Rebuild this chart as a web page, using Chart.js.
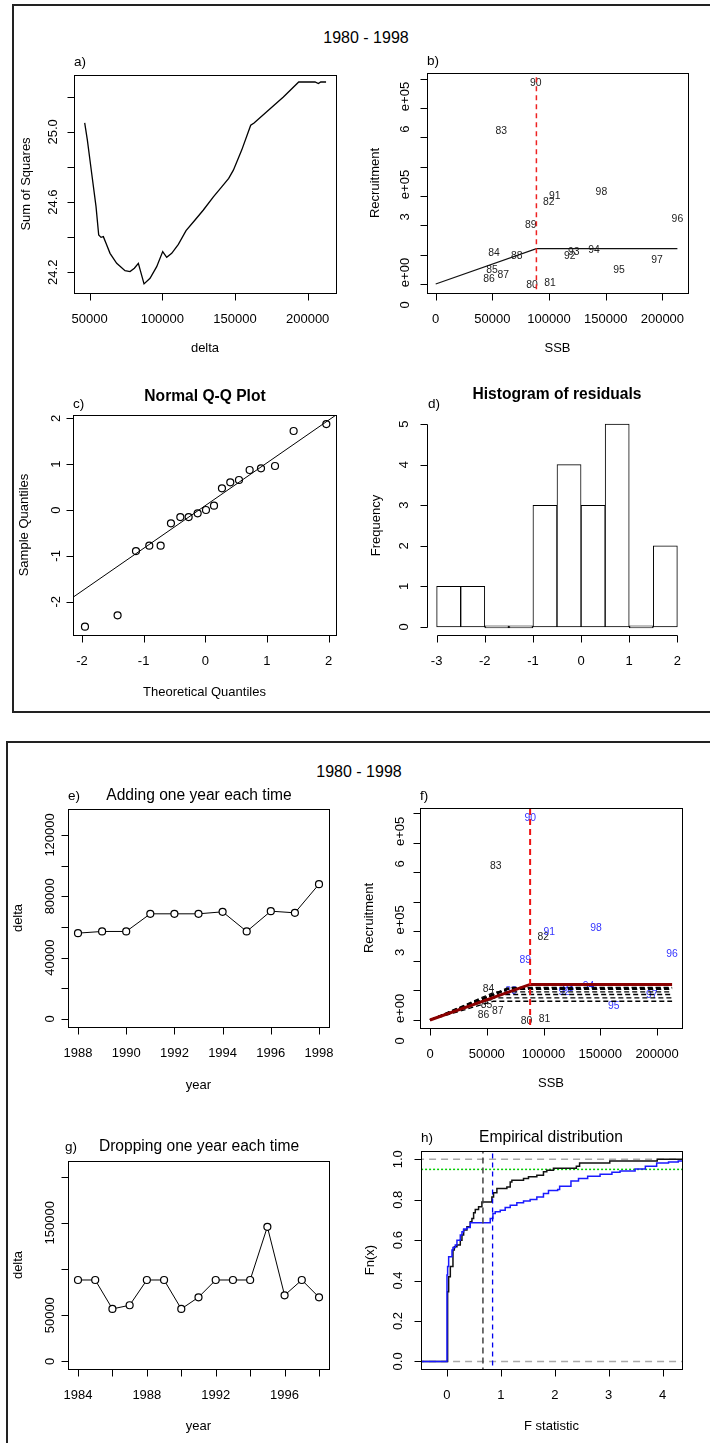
<!DOCTYPE html>
<html>
<head>
<meta charset="utf-8">
<title>Stock-recruitment diagnostics 1980 - 1998</title>
<script src="https://cdn.jsdelivr.net/npm/chart.js@4.4.0/dist/chart.umd.min.js"></script>
<style>
  html, body { margin: 0; padding: 0; background: #fff; }
  #page { position: relative; width: 710px; height: 1443px; overflow: hidden; background: #fff;
          font-family: "Liberation Sans", Arial, Helvetica, sans-serif; }
  .frame { position: absolute; border: 2px solid #222; }
  .head { position: absolute; width: 200px; text-align: center; font-size: 16px; line-height: 18px; color: #000; }
  canvas { position: absolute; left: 0; top: 0; }
</style>
</head>
<body>
<div id="page">
  <div class="frame" style="left:12px; top:4px; width:720px; height:705px"></div>
  <div class="frame" style="left:6px; top:741px; width:720px; height:720px"></div>
  <div class="head" style="left:266px; top:29px">1980 - 1998</div>
  <div class="head" style="left:259px; top:763px">1980 - 1998</div>
  <canvas id="pa" width="710" height="1443"></canvas>
  <canvas id="pb" width="710" height="1443"></canvas>
  <canvas id="pc" width="710" height="1443"></canvas>
  <canvas id="pd" width="710" height="1443"></canvas>
  <canvas id="pe" width="710" height="1443"></canvas>
  <canvas id="pf" width="710" height="1443"></canvas>
  <canvas id="pg" width="710" height="1443"></canvas>
  <canvas id="ph" width="710" height="1443"></canvas>
</div>
<script>
// a) sum of squares profile over the breakpoint delta
var aDelta = [46560, 48400, 51380, 54360, 56200, 57800, 59400, 61240, 64000, 68580, 74300, 77760, 80740, 83490,
  87390, 91520, 96110, 100240, 102990, 106430, 111020, 116300, 122490, 128230, 135110, 140850, 145660, 148870,
  154610, 160800, 163100, 171820, 183290, 193840, 205080, 207380, 208990, 212660];
var aSS = [25.051, 24.953, 24.763, 24.574, 24.412, 24.399, 24.403, 24.365, 24.308, 24.251, 24.209, 24.204, 24.223, 24.251,
  24.134, 24.166, 24.232, 24.318, 24.285, 24.308, 24.359, 24.437, 24.498, 24.555, 24.630, 24.687, 24.735, 24.782,
  24.896, 25.038, 25.051, 25.114, 25.199, 25.284, 25.284, 25.275, 25.284, 25.284];
var aXTicks = [50000, 100000, 150000, 200000];
var aXLabels = ['50000', '100000', '150000', '200000'];
var aYTicks = [24.2, 24.4, 24.6, 24.8, 25.0, 25.2];
var aYLabels = ['24.2', '', '24.6', '', '25.0', ''];

// b) + f) stock and recruitment by year
var srYears = ['80', '81', '82', '83', '84', '85', '86', '87', '88', '89', '90', '91', '92', '93', '94', '95', '96', '97', '98'];
var srSSB = [85000, 100880, 99700, 57940, 51470, 49700, 47060, 59700, 71470, 83820, 88235, 105000, 118240, 121760,
  139700, 161760, 213240, 195290, 146180];
var srRec = [-2300, 2300, 279500, 520500, 104500, 48900, 15900, 29500, 96600, 202300, 685200, 298900, 94300, 109100,
  114800, 46600, 222700, 83000, 312500];
var bBreak = 88850;
var bLevel = 120450;
var srXTicks = [0, 50000, 100000, 150000, 200000];
var srXLabels = ['0', '50000', '100000', '150000', '200000'];
var srYTicks = [0, 100000, 200000, 300000, 400000, 500000, 600000, 700000];
var srYLabels = ['0 e+00', '', '', '3 e+05', '', '', '6 e+05', ''];

// c) normal Q-Q plot of residuals
var qqTheo = [-1.951, -1.422, -1.124, -0.908, -0.724, -0.557, -0.405, -0.270, -0.124, 0.011, 0.141, 0.270, 0.405,
  0.546, 0.719, 0.903, 1.130, 1.432, 1.962];
var qqSample = [-2.545, -2.298, -0.895, -0.778, -0.778, -0.291, -0.153, -0.153, -0.073, 0.000, 0.095, 0.473, 0.604,
  0.655, 0.873, 0.909, 0.960, 1.724, 1.876];
var qqLineX = [-2.2, 2.2];
var qqLineY = [-1.955, 2.148];
var qqTicks = [-2, -1, 0, 1, 2];
var qqLabels = ['-2', '-1', '0', '1', '2'];

// d) histogram of residuals
var histMids = [-2.75, -2.25, -1.75, -1.25, -0.75, -0.25, 0.25, 0.75, 1.25, 1.75];
var histCounts = [1, 1, 0, 0, 3, 4, 3, 5, 0, 2];
var histXTicks = [-3, -2, -1, 0, 1, 2];
var histXLabels = ['-3', '-2', '-1', '0', '1', '2'];
var histYTicks = [0, 1, 2, 3, 4, 5];
var histYLabels = ['0', '1', '2', '3', '4', '5'];

// e) delta when adding one year each time
var addYears = [1988, 1989, 1990, 1991, 1992, 1993, 1994, 1995, 1996, 1997, 1998];
var addDelta = [55980, 57070, 57070, 68570, 68570, 68570, 69870, 57070, 70300, 69220, 87880];
var addXTicks = [1988, 1990, 1992, 1994, 1996, 1998];
var addXLabels = ['1988', '1990', '1992', '1994', '1996', '1998'];
var addYTicks = [0, 20000, 40000, 60000, 80000, 100000, 120000];
var addYLabels = ['0', '', '40000', '', '80000', '', '120000'];

// f) hockey-stick fits, one per end year 1988-1997, and the full fit
var fFitBreak = [55980, 57070, 57070, 68570, 68570, 68570, 69870, 57070, 70300, 69220];
var fFitLevel = [63500, 74800, 86300, 103500, 104500, 105500, 107000, 95100, 109000, 110000];
var fBreak = 88180;
var fLevel = 120500;
var fFirstAdded = 88;

// g) delta when dropping one year each time
var dropYears = [1984, 1985, 1986, 1987, 1988, 1989, 1990, 1991, 1992, 1993, 1994, 1995, 1996, 1997, 1998];
var dropDelta = [88130, 88130, 56830, 60790, 88130, 88130, 56830, 69420, 88130, 88130, 88130, 145680, 71580, 88130, 69420];
var dropXTicks = [1984, 1986, 1988, 1990, 1992, 1994, 1996, 1998];
var dropXLabels = ['1984', '', '1988', '', '1992', '', '1996', ''];
var dropYTicks = [0, 50000, 100000, 150000, 200000];
var dropYLabels = ['0', '50000', '', '150000', ''];

// h) empirical distribution of the F statistic
var hBlackX = [-0.6, 0.012, 0.031, 0.062, 0.111, 0.136, 0.185, 0.247, 0.278, 0.309, 0.370, 0.432, 0.463, 0.494,
  0.525, 0.586, 0.648, 0.833, 0.864, 0.926, 1.111, 1.173, 1.204, 1.42, 1.512, 1.667, 1.79, 1.852, 1.975, 2.40,
  2.46, 3.02, 3.9, 4.5];
var hBlackY = [0, 0.345, 0.419, 0.469, 0.551, 0.567, 0.576, 0.600, 0.625, 0.650, 0.666, 0.691, 0.707, 0.735,
  0.752, 0.765, 0.789, 0.814, 0.834, 0.855, 0.863, 0.888, 0.896, 0.905, 0.913, 0.921, 0.938, 0.946, 0.956, 0.965,
  0.982, 0.992, 1.0, 1.0];
var hBlueX = [-0.6, 0.0, 0.012, 0.031, 0.093, 0.111, 0.154, 0.185, 0.247, 0.278, 0.309, 0.370, 0.432, 0.802,
  0.852, 0.895, 0.988, 1.08, 1.173, 1.296, 1.42, 1.543, 1.667, 1.79, 1.883, 2.053, 2.09, 2.30, 2.44, 2.61, 2.84,
  3.06, 3.21, 3.49, 3.68, 3.89, 4.11, 4.29, 4.5];
var hBlueY = [0, 0.428, 0.469, 0.518, 0.551, 0.564, 0.576, 0.600, 0.625, 0.641, 0.655, 0.663, 0.686, 0.707,
  0.732, 0.740, 0.748, 0.762, 0.773, 0.785, 0.794, 0.801, 0.814, 0.831, 0.845, 0.850, 0.867, 0.893, 0.905, 0.916,
  0.926, 0.936, 0.942, 0.952, 0.965, 0.982, 0.987, 0.992, 0.992];
var hBlackCrit = 0.667;
var hBlueCrit = 0.846;
var hLevel = 0.95;
var hXTicks = [0, 1, 2, 3, 4];
var hXLabels = ['0', '1', '2', '3', '4'];
var hYTicks = [0, 0.2, 0.4, 0.6, 0.8, 1.0];
var hYLabels = ['0.0', '0.2', '0.4', '0.6', '0.8', '1.0'];

var W = 710, H = 1443;
var FONT = '"Liberation Sans", Arial, Helvetica, sans-serif';

function zip(xs, ys) { return xs.map(function (x, i) { return { x: x, y: ys[i] }; }); }

function line(pts, color, width, dash) {
  return { data: pts, showLine: true, borderColor: color, borderWidth: width, borderDash: dash || [],
           pointRadius: 0, fill: false };
}

function drawText(ctx, t, x, y, font, color, align, rot) {
  ctx.save();
  ctx.font = font;
  ctx.fillStyle = color || '#000';
  ctx.textAlign = align || 'center';
  ctx.textBaseline = 'middle';
  ctx.translate(x, y);
  if (rot) ctx.rotate(-Math.PI / 2);
  ctx.fillText(t, 0, 0);
  ctx.restore();
}

// per-panel decoration, looked up by canvas id
var PANEL = {};

// draws R-style box, axes, ticks and texts around each chart area
var rPlot = {
  id: 'rPlot',
  beforeDatasetsDraw: function (chart) {
    var o = PANEL[chart.canvas.id];
    if (!o.pointText) return;
    var meta = chart.getDatasetMeta(o.pointText.dataset);
    meta.data.forEach(function (el, i) {
      drawText(chart.ctx, o.pointText.text[i], el.x, el.y, '10.4px ' + FONT, o.pointText.colors[i]);
    });
  },
  afterDraw: function (chart) {
    var o = PANEL[chart.canvas.id];
    var ctx = chart.ctx, a = chart.chartArea;
    var sx = chart.scales.x, sy = chart.scales.y;
    ctx.save();
    ctx.strokeStyle = '#000';
    ctx.lineWidth = 1;
    if (o.box) {
      ctx.strokeRect(Math.round(a.left) + 0.5, Math.round(a.top) + 0.5,
                     Math.round(a.right - a.left), Math.round(a.bottom - a.top));
    }
    // x axis
    var yb = Math.round(a.bottom) + 0.5;
    var xp = o.xTicks.map(function (v) { return Math.round(sx.getPixelForValue(v)) + 0.5; });
    ctx.beginPath();
    ctx.moveTo(xp[0], yb); ctx.lineTo(xp[xp.length - 1], yb);
    xp.forEach(function (p) { ctx.moveTo(p, yb); ctx.lineTo(p, yb + 7); });
    ctx.stroke();
    o.xLabels.forEach(function (t, i) {
      if (t) drawText(ctx, t, sx.getPixelForValue(o.xTicks[i]), a.bottom + 26.5, '13px ' + FONT);
    });
    // y axis
    var xl = Math.round(a.left) + 0.5;
    var yp = o.yTicks.map(function (v) { return Math.round(sy.getPixelForValue(v)) + 0.5; });
    ctx.beginPath();
    ctx.moveTo(xl, yp[0]); ctx.lineTo(xl, yp[yp.length - 1]);
    yp.forEach(function (p) { ctx.moveTo(xl, p); ctx.lineTo(xl - 7, p); });
    ctx.stroke();
    o.yLabels.forEach(function (t, i) {
      if (!t) return;
      var py = sy.getPixelForValue(o.yTicks[i]);
      var lx = a.left - o.yLabOff;
      if (t.indexOf(' ') > 0) {
        var parts = t.split(' ');
        drawText(ctx, parts[0], lx, py + 21, '13px ' + FONT, '#000', 'center', true);
        drawText(ctx, parts[1], lx, py - 11.5, '13px ' + FONT, '#000', 'center', true);
      } else {
        drawText(ctx, t, lx, py, '13px ' + FONT, '#000', 'center', true);
      }
    });
    // titles
    if (o.xTitle) drawText(ctx, o.xTitle[0], (a.left + a.right) / 2, a.bottom + o.xTitle[1], '13px ' + FONT);
    if (o.yTitle) drawText(ctx, o.yTitle[0], a.left - o.yTitle[1], (a.top + a.bottom) / 2, '13px ' + FONT, '#000', 'center', true);
    if (o.letter) drawText(ctx, o.letter[0], o.letter[1], o.letter[2], '13.5px ' + FONT, '#000', 'left');
    if (o.main) drawText(ctx, o.main[0], o.main[1], o.main[2], (o.main[3] ? 'bold ' : '') + '15.6px ' + FONT);
    ctx.restore();
  }
};

function makeChart(id, type, box, xr, yr, datasets) {
  return new Chart(document.getElementById(id), {
    type: type,
    data: { datasets: datasets },
    options: {
      responsive: false,
      animation: false,
      events: [],
      layout: { padding: { left: box[0], top: box[1], right: W - box[2], bottom: H - box[3] } },
      scales: {
        x: { type: 'linear', display: false, offset: false, min: xr[0], max: xr[1] },
        y: { type: 'linear', display: false, offset: false, min: yr[0], max: yr[1] }
      },
      plugins: { legend: { display: false }, tooltip: { enabled: false } }
    },
    plugins: [rPlot]
  });
}

var circles = { pointRadius: 3.5, pointBorderColor: '#000', pointBorderWidth: 1.2 };

// ---- a)
PANEL.pa = { box: true, xTicks: aXTicks, xLabels: aXLabels, yTicks: aYTicks, yLabels: aYLabels, yLabOff: 21,
  xTitle: ['delta', 55], yTitle: ['Sum of Squares', 48], letter: ['a)', 74, 62.5] };
makeChart('pa', 'scatter', [74, 75, 336, 293], [39200, 219500], [24.082, 25.324], [
  line(zip(aDelta, aSS), '#000', 1.3)
]);

// ---- b)
PANEL.pb = { box: true, xTicks: srXTicks, xLabels: srXLabels, yTicks: srYTicks, yLabels: srYLabels, yLabOff: 22,
  xTitle: ['SSB', 55], yTitle: ['Recruitment', 52], letter: ['b)', 427, 61],
  pointText: { dataset: 2, text: srYears, colors: srYears.map(function () { return '#222'; }) } };
var ssbMax = Math.max.apply(null, srSSB);
makeChart('pb', 'scatter', [427, 73, 688, 293], [-7676, 222600], [-30700, 719400], [
  line([{ x: bBreak, y: -1e6 }, { x: bBreak, y: 1e7 }], '#ee2222', 1.5, [5, 4]),
  line([{ x: 0, y: 0 }, { x: bBreak, y: bLevel }, { x: ssbMax, y: bLevel }], '#111', 1.2),
  { data: zip(srSSB, srRec), pointRadius: 0 }
]);

// ---- c)
PANEL.pc = { box: true, xTicks: qqTicks, xLabels: qqLabels, yTicks: qqTicks, yLabels: qqLabels, yLabOff: 17,
  xTitle: ['Theoretical Quantiles', 57], yTitle: ['Sample Quantiles', 49], letter: ['c)', 73, 404],
  main: ['Normal Q-Q Plot', 205, 396.5, true] };
makeChart('pc', 'scatter', [73, 415, 336, 635], [-2.145, 2.119], [-2.727, 2.073], [
  line(zip(qqLineX, qqLineY), '#000', 1),
  Object.assign({ data: zip(qqTheo, qqSample), pointBackgroundColor: 'rgba(0,0,0,0)' }, circles)
]);

// ---- d)
PANEL.pd = { box: false, xTicks: histXTicks, xLabels: histXLabels, yTicks: histYTicks, yLabels: histYLabels, yLabOff: 23,
  yTitle: ['Frequency', 51], letter: ['d)', 428, 404], main: ['Histogram of residuals', 557, 395, true] };
makeChart('pd', 'bar', [427, 416, 687, 635], [-3.2, 2.2], [-0.2, 5.2], [
  { data: zip(histMids, histCounts), backgroundColor: '#fff', borderColor: '#000', borderWidth: 1,
    borderSkipped: false, barPercentage: 1, categoryPercentage: 1, minBarLength: 2 }
]);

// ---- e)
PANEL.pe = { box: true, xTicks: addXTicks, xLabels: addXLabels, yTicks: addYTicks, yLabels: addYLabels, yLabOff: 18,
  xTitle: ['year', 58], yTitle: ['delta', 50], letter: ['e)', 68, 796],
  main: ['Adding one year each time', 199, 796, false] };
makeChart('pe', 'scatter', [68, 809, 329, 1027], [1987.585, 1998.415], [-5210, 136900], [
  Object.assign(line(zip(addYears, addDelta), '#000', 1), circles, { pointBackgroundColor: '#fff' })
]);

// ---- f)
var fSets = [
  line([{ x: fBreak, y: -1e6 }, { x: fBreak, y: 1e7 }], '#ee1111', 2, [6, 4]),
  line([{ x: 0, y: 0 }, { x: fBreak, y: fLevel }, { x: ssbMax, y: fLevel }], '#8b0000', 3)
];
fFitBreak.forEach(function (bp, i) {
  fSets.push(line([{ x: 0, y: 0 }, { x: bp, y: fFitLevel[i] }, { x: ssbMax, y: fFitLevel[i] }], '#000', 1.3, [5, 3]));
});
fSets.push({ data: zip(srSSB, srRec), pointRadius: 0 });
PANEL.pf = { box: true, xTicks: srXTicks, xLabels: srXLabels, yTicks: srYTicks, yLabels: srYLabels, yLabOff: 20,
  xTitle: ['SSB', 55.5], yTitle: ['Recruitment', 51], letter: ['f)', 420, 796],
  pointText: { dataset: fSets.length - 1, text: srYears,
    colors: srYears.map(function (y) { return +y >= fFirstAdded ? '#3535ff' : '#222'; }) } };
makeChart('pf', 'scatter', [420, 808, 682, 1028], [-8818, 221960], [-27200, 718300], fSets);

// ---- g)
PANEL.pg = { box: true, xTicks: dropXTicks, xLabels: dropXLabels, yTicks: dropYTicks, yLabels: dropYLabels, yLabOff: 18,
  xTitle: ['year', 57.5], yTitle: ['delta', 50], letter: ['g)', 65, 1147.5],
  main: ['Dropping one year each time', 199, 1146.5, false] };
makeChart('pg', 'scatter', [68, 1161, 329, 1369], [1983.42, 1998.58], [-8200, 216900], [
  Object.assign(line(zip(dropYears, dropDelta), '#000', 1), circles, { pointBackgroundColor: '#fff' })
]);

// ---- h)
PANEL.ph = { box: true, xTicks: hXTicks, xLabels: hXLabels, yTicks: hYTicks, yLabels: hYLabels, yLabOff: 23,
  xTitle: ['F statistic', 57.5], yTitle: ['Fn(x)', 51], letter: ['h)', 421, 1138],
  main: ['Empirical distribution', 551, 1138, false] };
// ecdf: horizontal to the next jump, then vertical
var hStepBlue = line(zip(hBlueX, hBlueY), '#1a1aff', 1.5);
hStepBlue.stepped = 'before';
var hStepBlack = line(zip(hBlackX, hBlackY), '#111', 1.5);
hStepBlack.stepped = 'before';
makeChart('ph', 'scatter', [421, 1151, 682, 1369], [-0.482, 4.36], [-0.0375, 1.041], [
  line([{ x: hBlueCrit, y: -1 }, { x: hBlueCrit, y: 2 }], '#0000ee', 1.3, [5, 4]),
  line([{ x: hBlackCrit, y: -1 }, { x: hBlackCrit, y: 2 }], '#444', 1.5, [6, 4]),
  hStepBlue,
  hStepBlack,
  line([{ x: -1, y: hLevel }, { x: 5, y: hLevel }], '#00cc00', 1.5, [2, 2]),
  line([{ x: -1, y: 0 }, { x: 5, y: 0 }], '#aaaaaa', 1.5, [7, 5]),
  line([{ x: -1, y: 1 }, { x: 5, y: 1 }], '#aaaaaa', 1.5, [7, 5])
]);
</script>
</body>
</html>
